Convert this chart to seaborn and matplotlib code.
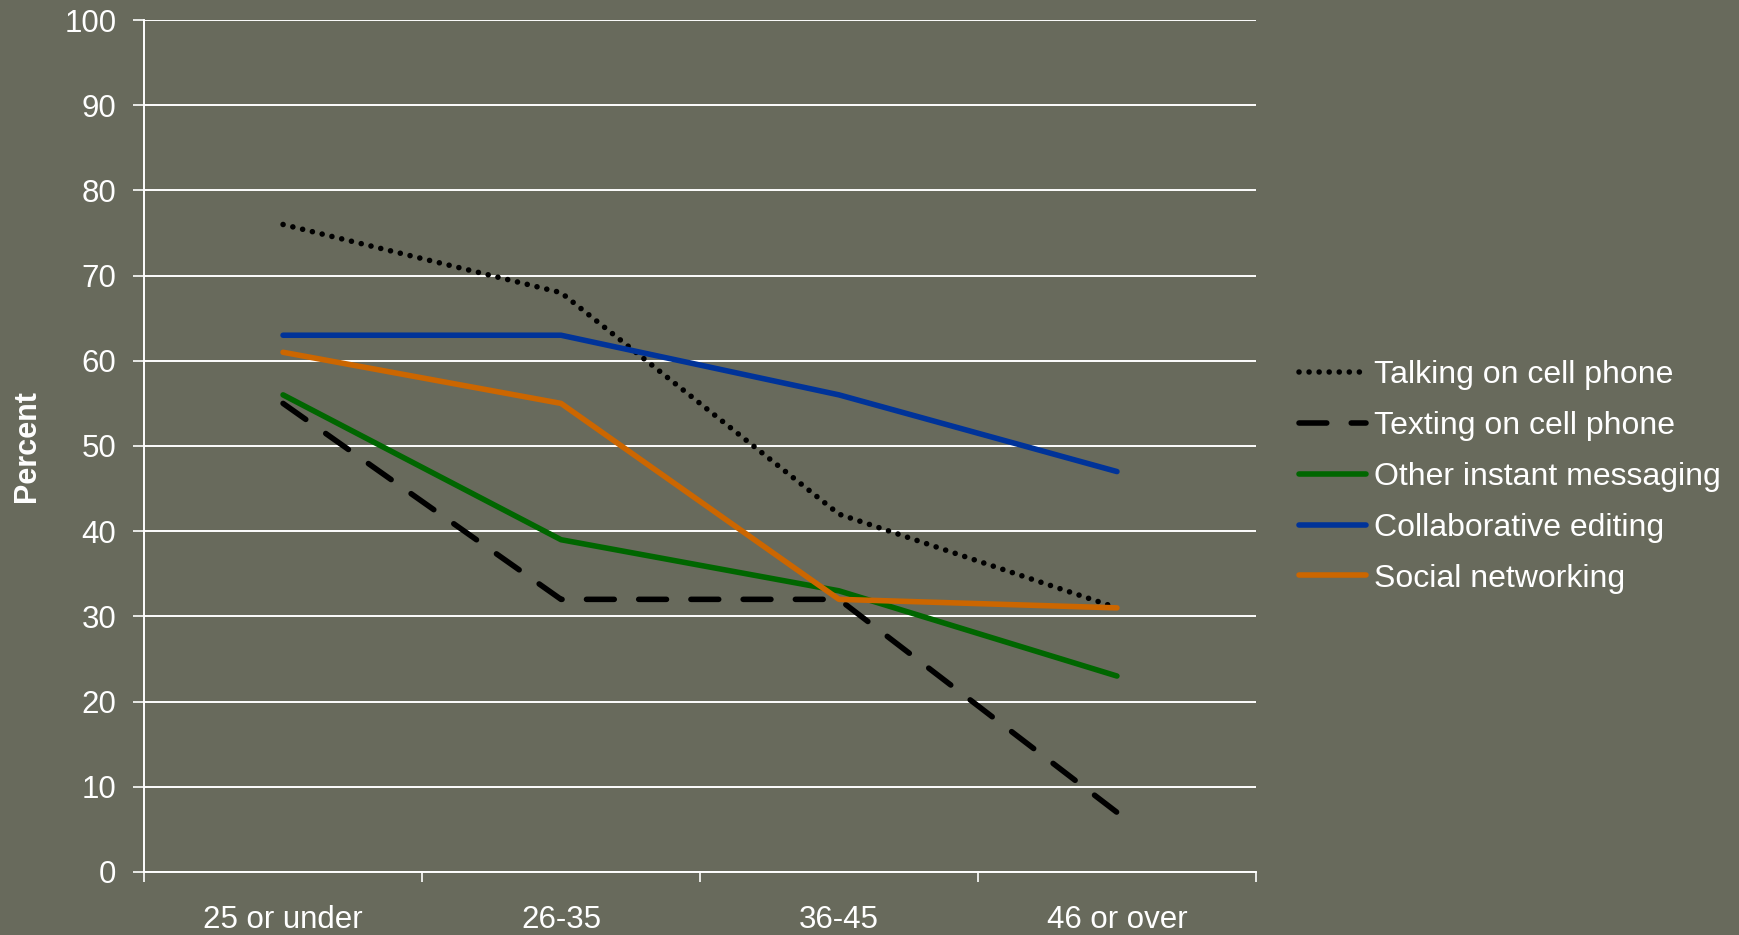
import numpy as np
import pandas as pd
import matplotlib
matplotlib.use('Agg')
import matplotlib.pyplot as plt
import seaborn as sns

sns.set_style('white')
plt.rcParams['font.family'] = ['Liberation Sans', 'DejaVu Sans']

# Data
age_groups = ['25 or under', '26-35', '36-45', '46 or over']
talking = [76, 68, 42, 31]
texting = [55, 32, 32, 7]
other_im = [56, 39, 33, 23]
collab = [63, 63, 56, 47]
social = [61, 55, 32, 31]

series_names = ['Talking on cell phone', 'Texting on cell phone',
                'Other instant messaging', 'Collaborative editing',
                'Social networking']
series_vals = [talking, texting, other_im, collab, social]
series_colors = ['#000000', '#000000', '#006600', '#003399', '#cc6600']
series_styles = [(0, (0.01, 1.8)), (0, (5, 4.4)), '-', '-', '-']

bg = '#686a5c'
fig = plt.figure(figsize=(17.4, 9.35), dpi=100, facecolor=bg)
ax = fig.add_axes([0.0828, 0.0674, 0.639, 0.9112])
ax.set_facecolor(bg)

xpos = np.arange(len(age_groups))
for name, vals, col, ls in zip(series_names, series_vals, series_colors, series_styles):
    sns.lineplot(x=xpos, y=vals, color=col, linestyle=ls, linewidth=4,
                 dash_capstyle='round', solid_capstyle='round',
                 label=name, ax=ax)

ax.set_xlim(-0.5, len(age_groups) - 0.5)
ax.set_ylim(0, 100)
ax.set_yticks(np.arange(0, 101, 10))
ax.set_xticks(xpos)
ax.set_xticklabels(age_groups)
ax.set_xticks(np.arange(-0.5, len(age_groups), 1), minor=True)

ax.yaxis.grid(True, color='white', linewidth=1.4)
ax.set_axisbelow(True)
for s in ['top', 'right']:
    ax.spines[s].set_visible(False)
for s in ['left', 'bottom']:
    ax.spines[s].set_color('white')
    ax.spines[s].set_linewidth(1.4)

ax.tick_params(axis='y', colors='white', labelsize=22.5, length=8, width=1.2,
               pad=12, direction='out', left=True)
ax.tick_params(axis='x', which='major', colors='white', labelsize=22.5,
               length=0, pad=24)
ax.tick_params(axis='x', which='minor', colors='white', length=7, width=1.2,
               direction='out', bottom=True)

ax.set_ylabel('Percent', color='white', fontsize=22, fontweight='bold', labelpad=16)
ax.set_xlabel('')

leg = ax.legend(loc='center left', bbox_to_anchor=(1.013, 0.4636), frameon=False,
                fontsize=23, handlelength=2.1, handletextpad=0.25,
                labelspacing=0.65)
for txt in leg.get_texts():
    txt.set_color('white')

fig.savefig('out.png', dpi=100, facecolor=bg)
